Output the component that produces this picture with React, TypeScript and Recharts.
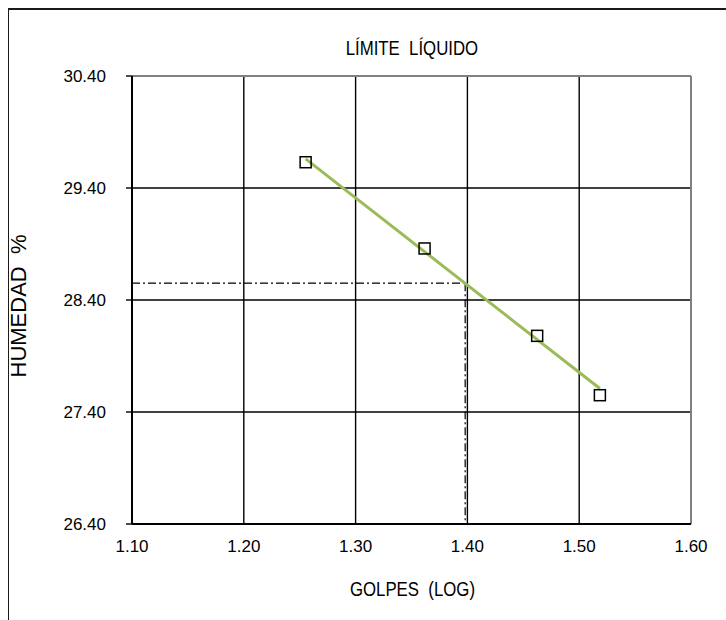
import {
  ScatterChart,
  Scatter,
  XAxis,
  YAxis,
  CartesianGrid,
  ReferenceLine,
} from 'recharts'

// golpes 18, 23, 29, 33 -> log10
const golpesLog = [1.2553, 1.3617, 1.4624, 1.5185]
const humedad = [29.63, 28.86, 28.08, 27.55]

// trend line endpoints
const trendX = [1.2553, 1.5185]
const trendY = [29.66, 27.61]

// liquid limit at 25 blows
const llX = 1.398
const llY = 28.55

const xTicks = [1.1, 1.2, 1.3, 1.4, 1.5, 1.6]
const yTicks = [26.4, 27.4, 28.4, 29.4, 30.4]

const points = golpesLog.map((x, i) => ({ x, y: humedad[i] }))
const trend = trendX.map((x, i) => ({ x, y: trendY[i] }))

const FONT = '"Liberation Sans", Arial, sans-serif'

const Square = (p: any) => {
  const s = 11
  return (
    <rect
      x={p.cx - s / 2}
      y={p.cy - s / 2}
      width={s}
      height={s}
      fill="none"
      stroke="#000"
      strokeWidth={1.5}
    />
  )
}

const narrow = {
  display: 'inline-block',
  transform: 'scaleX(0.84)',
  whiteSpace: 'nowrap' as const,
}

export default function App() {
  return (
    <div
      style={{
        position: 'absolute',
        left: 0,
        top: 0,
        width: 726,
        height: 620,
        overflow: 'hidden',
        background: '#fff',
        fontFamily: FONT,
      }}
    >
      <div
        style={{
          position: 'absolute',
          left: 8,
          top: 8,
          width: 760,
          height: 700,
          borderTop: '2px solid #1a1a1a',
          borderLeft: '1.5px solid #1a1a1a',
        }}
      />
      <div
        style={{
          position: 'absolute',
          left: 132,
          width: 560,
          top: 37,
          textAlign: 'center',
          fontSize: 20,
          color: '#000',
        }}
      >
        <span style={narrow}>LÍMITE&nbsp;&nbsp;LÍQUIDO</span>
      </div>
      <div
        style={{
          position: 'absolute',
          left: 132,
          width: 560,
          top: 578,
          textAlign: 'center',
          fontSize: 20,
          color: '#000',
        }}
      >
        <span style={narrow}>GOLPES&nbsp;&nbsp;(LOG)</span>
      </div>
      <div
        style={{
          position: 'absolute',
          left: 19,
          top: 306,
          transform: 'translate(-50%, -50%) rotate(-90deg)',
          fontSize: 22,
          whiteSpace: 'nowrap',
          color: '#000',
        }}
      >
        HUMEDAD&nbsp;&nbsp;%
      </div>
      <div style={{ position: 'absolute', left: 0, top: 0 }}>
        <ScatterChart
          width={726}
          height={620}
          margin={{ top: 76, right: 35, bottom: 56, left: 72 }}
        >
          <CartesianGrid stroke="#000" strokeWidth={1.4} />
          <XAxis
            type="number"
            dataKey="x"
            domain={[1.1, 1.6]}
            ticks={xTicks}
            tickFormatter={(v: number) => v.toFixed(2)}
            height={40}
            axisLine={{ stroke: '#000', strokeWidth: 2 }}
            tickLine={false}
            tickSize={0}
            tickMargin={16}
            tick={{ fontSize: 17, fill: '#000', fontFamily: FONT }}
            allowDataOverflow
          />
          <YAxis
            type="number"
            dataKey="y"
            domain={[26.4, 30.4]}
            ticks={yTicks}
            tickFormatter={(v: number) => v.toFixed(2)}
            width={60}
            axisLine={{ stroke: '#000', strokeWidth: 2 }}
            tickLine={{ stroke: '#000', strokeWidth: 1.4 }}
            tickSize={6}
            tickMargin={18}
            tick={{ fontSize: 17, fill: '#000', fontFamily: FONT, dx: -2 }}
            allowDataOverflow
          />
          <ReferenceLine y={30.4} stroke="#808080" strokeWidth={2} />
          <ReferenceLine x={1.6} stroke="#808080" strokeWidth={2} />
          <ReferenceLine
            segment={[
              { x: 1.1, y: llY },
              { x: llX, y: llY },
            ]}
            stroke="#000"
            strokeWidth={1.2}
            strokeDasharray="8 3 2 3"
          />
          <ReferenceLine
            segment={[
              { x: llX, y: llY },
              { x: llX, y: 26.4 },
            ]}
            stroke="#000"
            strokeWidth={1.2}
            strokeDasharray="8 3 2 3"
          />
          <Scatter
            data={trend}
            line={{ stroke: '#9BBB59', strokeWidth: 3 }}
            shape={() => null}
            isAnimationActive={false}
          />
          <Scatter data={points} shape={Square} isAnimationActive={false} />
        </ScatterChart>
      </div>
    </div>
  )
}
